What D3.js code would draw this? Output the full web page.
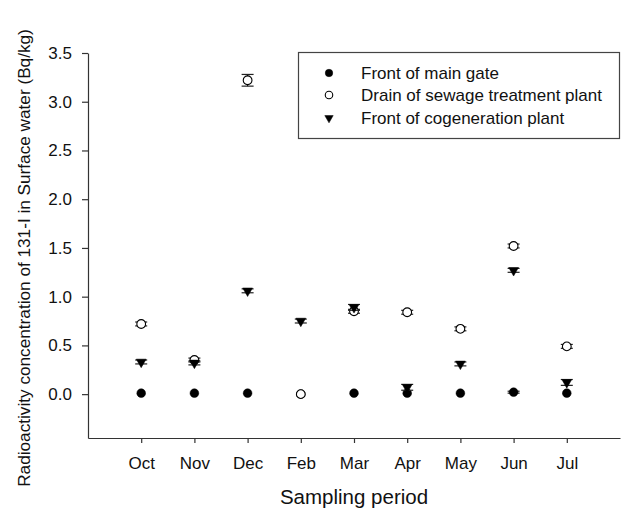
<!DOCTYPE html>
<html>
<head>
<meta charset="utf-8">
<script src="https://cdn.jsdelivr.net/npm/d3@7"></script>
<style>
	body { margin: 0; background: #fff; }
	svg { display: block; font-family: Arial, "Liberation Sans", sans-serif; }
	.axis path, .axis line { stroke: #333; stroke-width: 1.2; }
	.axis text { fill: #111; font-size: 17px; }
</style>
</head>
<body>
<svg id="chart" width="623" height="508"></svg>
<script>
/* global d3 */

const months = ['Oct', 'Nov', 'Dec', 'Feb', 'Mar', 'Apr', 'May', 'Jun', 'Jul'];

// Bq/kg
const gate = [0.01, 0.01, 0.01, 0.0, 0.01, 0.01, 0.01, 0.02, 0.01];
const gateErr = [0, 0, 0, 0, 0, 0, 0, 0.01, 0];
const drain = [0.72, 0.35, 3.22, 0.0, 0.85, 0.84, 0.67, 1.52, 0.49];
const drainErr = [0.02, 0.02, 0.06, 0, 0.02, 0.02, 0.02, 0.02, 0.02];
const cogen = [0.33, 0.32, 1.06, 0.75, 0.89, 0.07, 0.31, 1.27, 0.12];
const cogenErr = [0.02, 0.02, 0.02, 0.02, 0.03, 0.03, 0.02, 0.02, 0.03];

const yTicks = [0, 0.5, 1, 1.5, 2, 2.5, 3, 3.5];

const series = [
	{ name: 'Front of main gate', values: gate, errs: gateErr, shape: 'fill' },
	{ name: 'Drain of sewage treatment plant', values: drain, errs: drainErr, shape: 'open' },
	{ name: 'Front of cogeneration plant', values: cogen, errs: cogenErr, shape: 'tri' },
];

const svg = d3.select('#chart');

const x = d3.scaleLinear().domain([0, months.length + 1]).range([88, 620]);
const y = d3.scaleLinear().domain([-0.45, 3.5]).range([438, 53]);

svg.append('g')
	.attr('class', 'axis')
	.attr('transform', `translate(0,${y.range()[0]})`)
	.call(d3.axisBottom(x)
		.tickValues(months.map((m, i) => i + 1))
		.tickFormat(d => months[d - 1])
		.tickSize(5).tickSizeOuter(0).tickPadding(14));

svg.append('g')
	.attr('class', 'axis')
	.attr('transform', `translate(${x.range()[0]},0)`)
	.call(d3.axisLeft(y)
		.tickValues(yTicks)
		.tickFormat(d3.format('.1f'))
		.tickSize(6).tickSizeOuter(0).tickPadding(10));

svg.selectAll('.axis .domain').attr('stroke', '#333');

// titles
svg.append('text')
	.attr('x', 354).attr('y', 504)
	.attr('text-anchor', 'middle')
	.attr('font-size', 20.5)
	.attr('fill', '#111')
	.text('Sampling period');

svg.append('text')
	.attr('transform', 'translate(30,258) rotate(-90)')
	.attr('text-anchor', 'middle')
	.attr('font-size', 17.2)
	.attr('fill', '#111')
	.text('Radioactivity concentration of 131-I in Surface water (Bq/kg)');

const symbolPath = (shape, size) => {
	if (shape === 'tri') { return d3.symbol(d3.symbolTriangle, size * 0.7)(); }
	return d3.symbol(d3.symbolCircle, size)();
};

const drawMarker = (sel, shape, size) => {
	sel.append('path')
		.attr('d', symbolPath(shape, size))
		.attr('transform', shape === 'tri' ? 'rotate(180)' : null)
		.attr('fill', shape === 'open' ? '#fff' : '#000')
		.attr('stroke', '#000')
		.attr('stroke-width', shape === 'open' ? 1.1 : 0.5);
};

for (const s of series) {
	const g = svg.append('g');
	const pts = s.values.map((v, i) => ({ i, v, e: s.errs[i] }));

	// error bars
	const eb = g.selectAll('.err')
		.data(pts.filter(d => d.e > 0))
		.enter().append('g')
			.attr('stroke', '#222')
			.attr('stroke-width', 1.2);
	eb.append('line')
		.attr('x1', d => x(d.i + 1)).attr('x2', d => x(d.i + 1))
		.attr('y1', d => y(d.v - d.e)).attr('y2', d => y(d.v + d.e));
	for (const sign of [-1, 1]) {
		eb.append('line')
			.attr('x1', d => x(d.i + 1) - 6).attr('x2', d => x(d.i + 1) + 6)
			.attr('y1', d => y(d.v + sign * d.e)).attr('y2', d => y(d.v + sign * d.e));
	}

	g.selectAll('.pt')
		.data(pts)
		.enter().append('g')
			.attr('transform', d => `translate(${x(d.i + 1)},${y(d.v)})`)
			.each(function () { drawMarker(d3.select(this), s.shape, 60); });
}

// legend
const legend = svg.append('g');
legend.append('rect')
	.attr('x', 298.5).attr('y', 52.5)
	.attr('width', 321).attr('height', 86)
	.attr('fill', '#fff')
	.attr('stroke', '#444')
	.attr('stroke-width', 1.2);

const rowY = [73, 95, 118];
series.forEach((s, i) => {
	const row = legend.append('g').attr('transform', `translate(329,${rowY[i]})`);
	drawMarker(row, s.shape, 44);
	legend.append('text')
		.attr('x', 361).attr('y', rowY[i] + 6)
		.attr('font-size', 17)
		.attr('fill', '#111')
		.text(s.name);
});
</script>
</body>
</html>
